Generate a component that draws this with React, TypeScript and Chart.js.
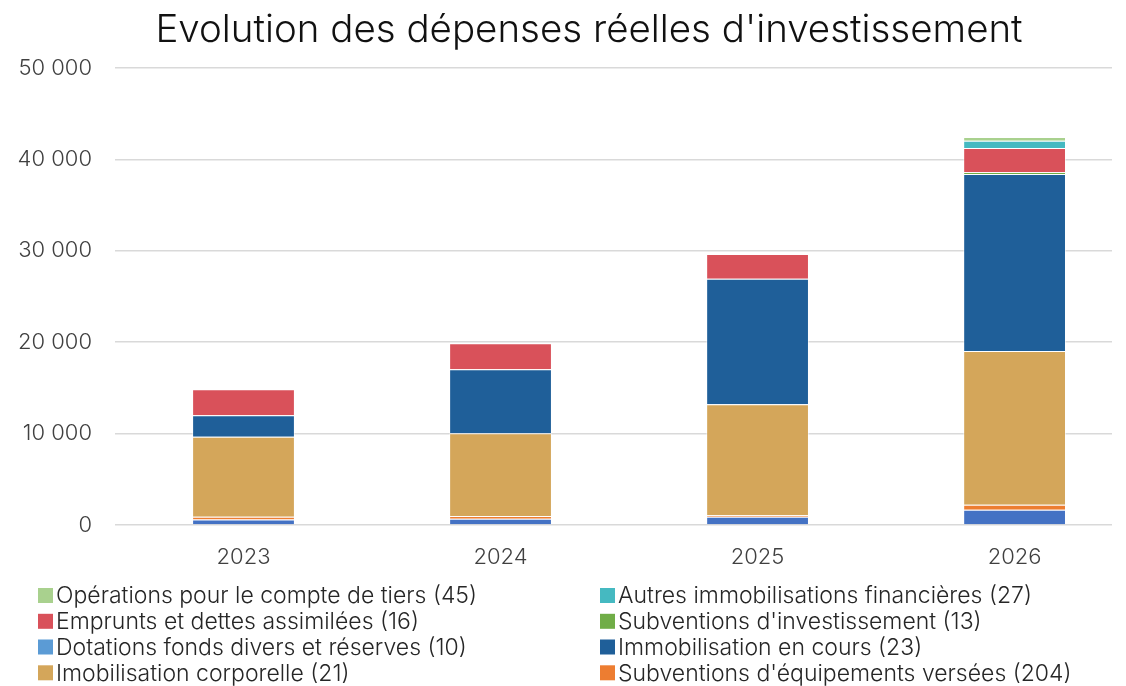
import React, { useEffect, useRef } from "react";
import { Chart, registerables } from "chart.js";

Chart.register(...registerables);

const TITLE = "Evolution des dépenses réelles d'investissement";
const years = ["2023", "2024", "2025", "2026"];
const yTicks = [0, 10000, 20000, 30000, 40000, 50000];

// stack order: bottom -> top
const seriesNames = [
  "Dotations fonds divers et réserves (10)",
  "Subventions d'équipements versées (204)",
  "Imobilisation corporelle (21)",
  "Immobilisation en cours (23)",
  "Subventions d'investissement (13)",
  "Emprunts et dettes assimilées (16)",
  "Autres immobilisations financières (27)",
  "Opérations pour le compte de tiers (45)",
];
const dotations = [600, 690, 900, 1670];
const subvEquipements = [300, 290, 160, 550];
const immoCorporelle = [8760, 9050, 12140, 16820];
const immoEnCours = [2340, 7000, 13750, 19360];
const subvInvestissement = [0, 0, 0, 200];
const emprunts = [2850, 2850, 2700, 2650];
const autresImmoFin = [0, 0, 0, 800];
const operationsTiers = [0, 0, 0, 400];
const seriesValues = [
  dotations,
  subvEquipements,
  immoCorporelle,
  immoEnCours,
  subvInvestissement,
  emprunts,
  autresImmoFin,
  operationsTiers,
];
const barColors = ["#4472C4", "#ED7D31", "#D4A65A", "#1F5F99", "#70AD47", "#D9515A", "#45B9C1", "#A9D18E"];
const legendColors = ["#5B9BD5", "#ED7D31", "#D4A65A", "#1F5F99", "#70AD47", "#D9515A", "#45B9C1", "#A9D18E"];
// legend grid (rows x 2 columns), indexes into series
const legendRows = [
  [7, 6],
  [5, 4],
  [0, 3],
  [2, 1],
];

const FONT = "Inter";
const fmt = (v: number) => String(v).replace(/\B(?=(\d{3})+(?!\d))/g, " ");

const textPlugin = {
  id: "customText",
  afterDraw(chart: any) {
    const ctx = chart.ctx as CanvasRenderingContext2D;
    ctx.save();
    ctx.fillStyle = "#111111";
    ctx.font = `300 38.5px ${FONT}`;
    ctx.textAlign = "center";
    ctx.textBaseline = "middle";
    ctx.fillText(TITLE, 589, 30);

    const colX = [38, 600];
    const rowY = [595.5, 621.3, 647, 672.8];
    ctx.font = `300 23px ${FONT}`;
    ctx.textAlign = "left";
    legendRows.forEach((row, r) => {
      row.forEach((si, c) => {
        ctx.fillStyle = legendColors[si];
        ctx.fillRect(colX[c], rowY[r] - 7.5, 15, 15);
        ctx.fillStyle = "#262626";
        ctx.fillText(seriesNames[si], colX[c] + 18, rowY[r] + 1);
      });
    });
    ctx.restore();
  },
};

export default function App() {
  const ref = useRef<HTMLCanvasElement>(null);
  useEffect(() => {
    if (!ref.current) return;
    const chart = new Chart(ref.current, {
      type: "bar",
      data: {
        datasets: seriesNames.map((name, i) => ({
          label: name,
          data: seriesValues[i].map((v, j) => ({ x: j, y: v })),
          backgroundColor: barColors[i],
          borderColor: "rgba(255,255,255,0.55)",
          borderWidth: 1,
          categoryPercentage: 1,
          barPercentage: 0.4,
        })),
      },
      options: {
        responsive: false,
        animation: false,
        devicePixelRatio: 1,
        layout: { padding: { top: 68, bottom: 91, left: 0, right: 14 } },
        plugins: {
          legend: { display: false },
          title: { display: false },
          tooltip: { enabled: false },
        },
        scales: {
          x: {
            type: "linear",
            stacked: true,
            offset: false,
            min: -0.5,
            max: 3.379,
            grid: { display: false },
            border: { display: false },
            afterBuildTicks: (s: any) => {
              s.ticks = years.map((_, i) => ({ value: i }));
            },
            afterFit: (s: any) => {
              s.height = 70;
            },
            ticks: {
              padding: 11,
              color: "#404040",
              maxRotation: 0,
              font: { family: FONT, size: 22, weight: "300" },
              callback: (v: any) => years[v as number] ?? "",
            },
          },
          y: {
            stacked: true,
            min: 0,
            max: 50000,
            afterBuildTicks: (s: any) => {
              s.ticks = yTicks.map((v) => ({ value: v }));
            },
            afterFit: (s: any) => {
              s.width = 115;
            },
            grid: { color: "#d9d9d9", lineWidth: 1.5, drawTicks: false },
            border: { display: false },
            ticks: {
              padding: 23,
              color: "#404040",
              font: { family: FONT, size: 22, weight: "300" },
              callback: (v: any) => fmt(v as number),
            },
          },
        },
      },
      plugins: [textPlugin],
    } as any);
    return () => chart.destroy();
  }, []);
  return (
    <div style={{ position: "absolute", left: 0, top: 0, width: 1126, height: 686, background: "#fff" }}>
      <canvas ref={ref} width={1126} height={686} />
    </div>
  );
}
